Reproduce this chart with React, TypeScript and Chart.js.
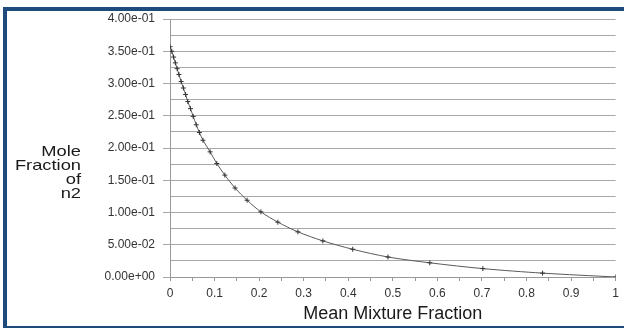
import React, { useEffect, useRef } from "react";
import { Chart, registerables } from "chart.js";

Chart.register(...registerables);

const mixtureFraction = [
  0, 0.004, 0.008, 0.012, 0.016, 0.02, 0.025, 0.03, 0.035, 0.04, 0.046, 0.052,
  0.059, 0.066, 0.074, 0.09, 0.105, 0.123, 0.146, 0.173, 0.204, 0.242, 0.287,
  0.343, 0.41, 0.489, 0.583, 0.702, 0.836, 1.0,
];
const moleFractionN2 = [
  0.357, 0.35, 0.341, 0.332, 0.323, 0.314, 0.303, 0.293, 0.283, 0.272, 0.261,
  0.249, 0.236, 0.224, 0.212, 0.194, 0.176, 0.158, 0.138, 0.119, 0.101, 0.085,
  0.07, 0.056, 0.043, 0.031, 0.022, 0.013, 0.006, 0.0,
];
const xTickLabels = ["0", "0.1", "0.2", "0.3", "0.4", "0.5", "0.6", "0.7", "0.8", "0.9", "1"];
const yTickLabels = [
  "0.00e+00", "5.00e-02", "1.00e-01", "1.50e-01", "2.00e-01",
  "2.50e-01", "3.00e-01", "3.50e-01", "4.00e-01",
];
const yTitleLines = ["Mole", "Fraction", "of", "n2"];
const xTitle = "Mean Mixture Fraction";

const FONT = "'Liberation Sans', Arial, Helvetica, sans-serif";

const yTitlePlugin = {
  id: "yTitle",
  afterDraw(chart: any) {
    const ctx = chart.ctx;
    ctx.save();
    ctx.font = `15px ${FONT}`;
    ctx.fillStyle = "#1a1a1a";
    ctx.textAlign = "right";
    ctx.textBaseline = "alphabetic";
    const sx = 1.22;
    ctx.scale(sx, 1);
    yTitleLines.forEach((t, i) => {
      ctx.fillText(t, 81 / sx, 156 + i * 14);
    });
    ctx.restore();
  },
};

export default function App() {
  const ref = useRef<HTMLCanvasElement | null>(null);

  useEffect(() => {
    if (!ref.current) return;
    const points = mixtureFraction.map((x, i) => ({ x, y: moleFractionN2[i] }));
    const chart = new Chart(ref.current, {
      type: "line",
      data: {
        datasets: [
          {
            data: points,
            borderColor: "#5a5a5a",
            borderWidth: 1,
            pointStyle: "cross",
            pointRadius: 2.5,
            pointBorderColor: "#333",
            pointBorderWidth: 1,
            tension: 0.3,
            fill: false,
          },
        ],
      },
      options: {
        animation: false,
        responsive: false,
        maintainAspectRatio: false,
        layout: { padding: { top: 19, right: 8, left: 0, bottom: 0 } },
        plugins: { legend: { display: false }, tooltip: { enabled: false } },
        scales: {
          x: {
            type: "linear",
            min: 0,
            max: 1,
            afterFit: (s: any) => {
              s.height = 51;
            },
            ticks: {
              stepSize: 0.05,
              autoSkip: false,
              maxRotation: 0,
              padding: 5,
              color: "#333",
              font: { family: FONT, size: 12 },
              callback: (_v: any, i: number) => (i % 2 === 0 ? xTickLabels[i / 2] : ""),
            },
            grid: {
              drawOnChartArea: false,
              drawTicks: true,
              tickLength: 4,
              tickColor: "#999",
            },
            border: { display: true, color: "#999", width: 1 },
            title: {
              display: true,
              text: xTitle,
              color: "#1a1a1a",
              font: { family: FONT, size: 18 },
              padding: { top: 0, bottom: 3 },
            },
          },
          y: {
            type: "linear",
            min: 0,
            max: 0.4,
            afterFit: (s: any) => {
              s.width = 170;
            },
            ticks: {
              stepSize: 0.025,
              autoSkip: false,
              padding: 8,
              color: "#333",
              font: { family: FONT, size: 12 },
              callback: (_v: any, i: number) => (i % 2 === 0 ? yTickLabels[i / 2] : ""),
            },
            grid: {
              color: "#a8a8a8",
              lineWidth: 1,
              tickLength: 7,
              tickColor: (c: any) => (c.index % 2 === 0 ? "#a8a8a8" : "rgba(0,0,0,0)"),
            },
            border: { display: true, color: "#999", width: 1 },
          },
        },
      },
      plugins: [yTitlePlugin],
    });
    return () => chart.destroy();
  }, []);

  return (
    <div style={{ position: "fixed", left: 0, top: 0, width: 624, height: 328, background: "#fff" }}>
      <canvas ref={ref} width={624} height={328} style={{ position: "absolute", left: 0, top: 0, width: 624, height: 328 }} />
      <div style={{ position: "absolute", left: 3, top: 7, width: 621, height: 4, background: "#1f4a7c" }} />
      <div style={{ position: "absolute", left: 3, top: 7, width: 4, height: 321, background: "#1f4a7c" }} />
      <div style={{ position: "absolute", left: 3, top: 326, width: 621, height: 2, background: "#1f4a7c" }} />
    </div>
  );
}
